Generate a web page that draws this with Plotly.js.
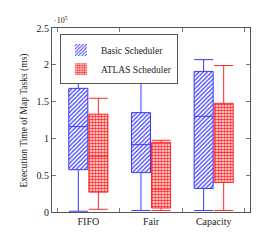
<!DOCTYPE html>
<html>
<head>
<meta charset="utf-8">
<script src="https://cdn.plot.ly/plotly-3.0.1.min.js"></script>
<style>html,body{margin:0;padding:0;background:#fff;}#chart{width:272px;height:245px;}</style>
</head>
<body>
<div id="chart"></div>
<script>
// Data (execution time in ms)
const categories = ["FIFO", "Fair", "Capacity"];
const seriesNames = ["Basic Scheduler", "ATLAS Scheduler"];
// Basic Scheduler
const basicLower = [1000, 2000, 2000];
const basicQ1 = [57500, 53500, 32000];
const basicMedian = [116000, 91500, 130000];
const basicQ3 = [168000, 135000, 191000];
const basicUpper = [197400, 197000, 207000];
// ATLAS Scheduler
const atlasLower = [3700, 2000, 2000];
const atlasQ1 = [27000, 5400, 40000];
const atlasMedian = [75700, 31000, 81000];
const atlasQ3 = [133000, 94700, 147700];
const atlasUpper = [154500, 97400, 199000];
const yTickVals = [0, 50000, 100000, 150000, 200000, 250000];
const yTickText = ["0", "0.5", "1", "1.5", "2", "2.5"];
const yTitle = "Execution Time of Map Tasks (ms)";

const font = "Liberation Serif, DejaVu Serif, serif";
const blue = "#3a3aff", red = "#ff2a2a";

function span(lo, hi) { return hi.map((v, i) => v - lo[i]); }

const traces = [
  // patterned fills of the boxes (interquartile range)
  {
    type: "bar", name: seriesNames[0], x: categories, base: basicQ1, y: span(basicQ1, basicQ3),
    marker: {color: "#ffffff", line: {width: 0},
      pattern: {shape: "/", fgcolor: blue, bgcolor: "#ffffff", size: 3, solidity: 0.4}},
    hoverinfo: "skip", legendgroup: "b", showlegend: true
  },
  {
    type: "bar", name: seriesNames[1], x: categories, base: atlasQ1, y: span(atlasQ1, atlasQ3),
    marker: {color: "#ffffff", line: {width: 0},
      pattern: {shape: ".", fgcolor: red, bgcolor: "#ffffff", size: 3, solidity: 0.6}},
    hoverinfo: "skip", legendgroup: "a", showlegend: true
  },
  // box outlines, medians, whiskers
  {
    type: "box", name: seriesNames[0], x: categories,
    q1: basicQ1, median: basicMedian, q3: basicQ3,
    lowerfence: basicLower, upperfence: basicUpper,
    line: {color: blue, width: 1}, fillcolor: "rgba(0,0,0,0)",
    whiskerwidth: 1, boxpoints: false, hoverinfo: "skip", showlegend: false, legendgroup: "b"
  },
  {
    type: "box", name: seriesNames[1], x: categories,
    q1: atlasQ1, median: atlasMedian, q3: atlasQ3,
    lowerfence: atlasLower, upperfence: atlasUpper,
    line: {color: red, width: 1}, fillcolor: "rgba(0,0,0,0)",
    whiskerwidth: 1, boxpoints: false, hoverinfo: "skip", showlegend: false, legendgroup: "a"
  }
];

const layout = {
  width: 272, height: 245,
  margin: {l: 52, r: 22, t: 28, b: 33},
  paper_bgcolor: "#fff", plot_bgcolor: "#fff",
  font: {family: font, size: 10, color: "#222"},
  boxmode: "group", boxgap: 0.36, boxgroupgap: 0.05,
  barmode: "group", bargap: 0.36, bargroupgap: 0.05,
  showlegend: true,
  legend: {
    x: 0.04, y: 0.965, xanchor: "left", yanchor: "top",
    bgcolor: "#fff", bordercolor: "#555", borderwidth: 1,
    font: {family: font, size: 9.5, color: "#222"},
    tracegroupgap: 0, itemwidth: 30, traceorder: "normal"
  },
  xaxis: {
    type: "category", range: [-0.58, 2.58], tickson: "boundaries",
    ticks: "inside", ticklen: 4, tickcolor: "#777", mirror: "ticks",
    showline: true, linecolor: "#555", linewidth: 1, showgrid: false, zeroline: false,
    tickfont: {family: font, size: 10, color: "#222"}, fixedrange: true
  },
  yaxis: {
    range: [0, 250000], tickvals: yTickVals, ticktext: yTickText,
    ticks: "inside", ticklen: 4, tickcolor: "#777", mirror: "ticks",
    showline: true, linecolor: "#555", linewidth: 1, showgrid: false, zeroline: false,
    tickfont: {family: font, size: 10, color: "#222"},
    fixedrange: true
  },
  annotations: [
    {
      xref: "paper", yref: "paper", x: 0, y: 1, xanchor: "left", yanchor: "bottom",
      text: "·10<sup>5</sup>", showarrow: false, font: {family: font, size: 8, color: "#222"}, yshift: 1
    },
    {
      xref: "paper", yref: "paper", x: 0, y: 0.5, xanchor: "right", yanchor: "middle",
      xshift: -22, textangle: -90, text: yTitle, showarrow: false, borderpad: 0,
      font: {family: font, size: 9.5, color: "#222"}
    }
  ]
};

Plotly.newPlot("chart", traces, layout, {displayModeBar: false, staticPlot: true});
</script>
</body>
</html>
